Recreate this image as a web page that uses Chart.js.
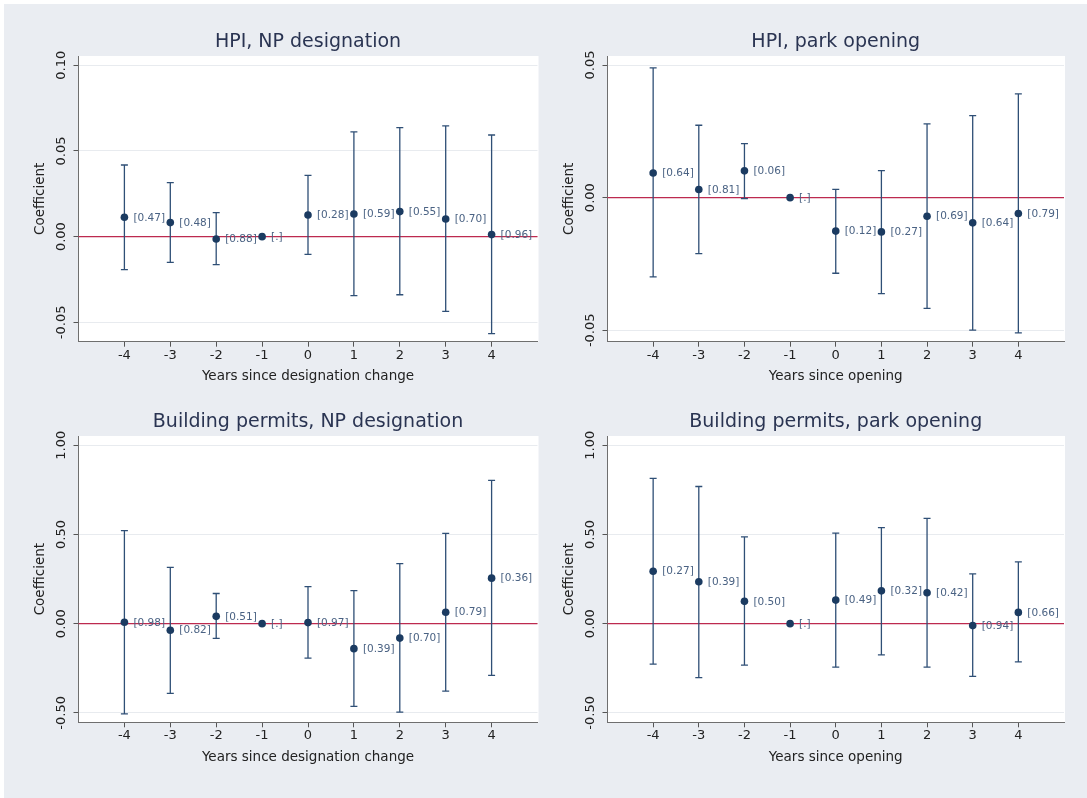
<!DOCTYPE html>
<html lang="en">
<head>
    <meta charset="UTF-8">
    <title>Event study coefficients</title>
    <script src="https://cdn.jsdelivr.net/npm/chart.js@4.4.1/dist/chart.umd.min.js"></script>
    <style>
        html, body { margin: 0; padding: 0; background: #ffffff; }
        body { width: 1087px; height: 798px; position: relative; overflow: hidden; }
        .bg { position: absolute; left: 4px; top: 4px; right: 0; bottom: 0; background: #eaedf2; }
        canvas { position: absolute; left: 0; top: 0; }
    </style>
</head>
<body>
    <div class="bg"></div>
    <canvas id="hpiNp" width="1087" height="798"></canvas>
    <canvas id="hpiPark" width="1087" height="798"></canvas>
    <canvas id="permitsNp" width="1087" height="798"></canvas>
    <canvas id="permitsPark" width="1087" height="798"></canvas>

    <script>
        // years relative to event
        const years = [-4, -3, -2, -1, 0, 1, 2, 3, 4];

        // HPI, NP designation
        const hpiNpCoef = [0.0113, 0.0082, -0.0014, 0, 0.0126, 0.0132, 0.0146, 0.0103, 0.0012];
        const hpiNpLow  = [-0.0193, -0.0150, -0.0163, null, -0.0103, -0.0344, -0.0339, -0.0436, -0.0566];
        const hpiNpHigh = [0.0418, 0.0315, 0.0140, null, 0.0358, 0.0611, 0.0636, 0.0646, 0.0593];
        const hpiNpP = ['[0.47]', '[0.48]', '[0.88]', '[.]', '[0.28]', '[0.59]', '[0.55]', '[0.70]', '[0.96]'];

        // HPI, park opening
        const hpiParkCoef = [0.0093, 0.0031, 0.0101, 0, -0.0126, -0.0129, -0.0070, -0.0095, -0.0060];
        const hpiParkLow  = [-0.0299, -0.0211, -0.0004, null, -0.0285, -0.0362, -0.0417, -0.0499, -0.0510];
        const hpiParkHigh = [0.0489, 0.0273, 0.0204, null, 0.0031, 0.0102, 0.0278, 0.0309, 0.0391];
        const hpiParkP = ['[0.64]', '[0.81]', '[0.06]', '[.]', '[0.12]', '[0.27]', '[0.69]', '[0.64]', '[0.79]'];

        // Building permits, NP designation
        const permitsNpCoef = [0.0075, -0.037, 0.041, 0, 0.006, -0.140, -0.081, 0.064, 0.255];
        const permitsNpLow  = [-0.506, -0.391, -0.082, null, -0.193, -0.464, -0.496, -0.378, -0.290];
        const permitsNpHigh = [0.522, 0.315, 0.169, null, 0.208, 0.185, 0.337, 0.506, 0.803];
        const permitsNpP = ['[0.98]', '[0.82]', '[0.51]', '[.]', '[0.97]', '[0.39]', '[0.70]', '[0.79]', '[0.36]'];

        // Building permits, park opening
        const permitsParkCoef = [0.294, 0.235, 0.125, 0, 0.132, 0.184, 0.173, -0.011, 0.063];
        const permitsParkLow  = [-0.227, -0.302, -0.233, null, -0.244, -0.175, -0.244, -0.296, -0.214];
        const permitsParkHigh = [0.814, 0.769, 0.486, null, 0.508, 0.538, 0.590, 0.279, 0.346];
        const permitsParkP = ['[0.27]', '[0.39]', '[0.50]', '[.]', '[0.49]', '[0.32]', '[0.42]', '[0.94]', '[0.66]'];

        // axis ticks
        const xTicks = [-4, -3, -2, -1, 0, 1, 2, 3, 4];
        const hpiNpTicks = [-0.05, 0, 0.05, 0.10];
        const hpiNpTickLabels = ['-0.05', '0.00', '0.05', '0.10'];
        const hpiParkTicks = [-0.05, 0, 0.05];
        const hpiParkTickLabels = ['-0.05', '0.00', '0.05'];
        const permitsTicks = [-0.5, 0, 0.5, 1.0];
        const permitsTickLabels = ['-0.50', '0.00', '0.50', '1.00'];

        const W = 1087, H = 798;
        const NAVY = '#1b3b61';
        const BAR = '#2f4f76';
        const FONT = "'DejaVu Sans', sans-serif";
        Chart.defaults.font.family = FONT;

        const makePanel = (id, cfg) => {
            const a = cfg.area;

            const panelPlugin = {
                id: 'panel',
                beforeDraw(chart) {
                    const { ctx, chartArea: c } = chart;
                    ctx.save();
                    ctx.fillStyle = '#ffffff';
                    ctx.fillRect(c.left, c.top, c.right - c.left + 1, c.bottom - c.top);
                    ctx.restore();
                },
                beforeDatasetsDraw(chart) {
                    const { ctx, chartArea: c, scales } = chart;
                    const y0 = scales.y.getPixelForValue(0);
                    ctx.save();
                    // zero line
                    ctx.strokeStyle = '#bd2a4f';
                    ctx.lineWidth = 1.3;
                    ctx.beginPath();
                    ctx.moveTo(c.left, y0);
                    ctx.lineTo(c.right, y0);
                    ctx.stroke();
                    // confidence intervals with caps
                    ctx.strokeStyle = BAR;
                    ctx.lineWidth = 1.3;
                    years.forEach((yr, i) => {
                        if (cfg.low[i] === null) return;
                        const x = scales.x.getPixelForValue(yr);
                        const yl = scales.y.getPixelForValue(cfg.low[i]);
                        const yh = scales.y.getPixelForValue(cfg.high[i]);
                        ctx.beginPath();
                        ctx.moveTo(x, yl); ctx.lineTo(x, yh);
                        ctx.moveTo(x - 3.5, yl); ctx.lineTo(x + 3.5, yl);
                        ctx.moveTo(x - 3.5, yh); ctx.lineTo(x + 3.5, yh);
                        ctx.stroke();
                    });
                    ctx.restore();
                },
                afterDatasetsDraw(chart) {
                    const { ctx, chartArea: c, scales } = chart;
                    const meta = chart.getDatasetMeta(0);
                    ctx.save();
                    // p-value labels
                    ctx.font = '10.5px ' + FONT;
                    ctx.fillStyle = '#4a6283';
                    ctx.textAlign = 'left';
                    ctx.textBaseline = 'middle';
                    meta.data.forEach((pt, i) => {
                        ctx.fillText(cfg.pvals[i], pt.x + 9, pt.y + 0.5);
                    });
                    // rotated y tick labels
                    ctx.font = '13px ' + FONT;
                    ctx.fillStyle = '#222222';
                    ctx.textAlign = 'center';
                    cfg.yTicks.forEach((v, i) => {
                        const y = scales.y.getPixelForValue(v);
                        ctx.save();
                        ctx.translate(c.left - 16.5, y);
                        ctx.rotate(-Math.PI / 2);
                        ctx.fillText(cfg.yTickLabels[i], 0, 0);
                        ctx.restore();
                    });
                    // y axis title
                    ctx.font = '13.5px ' + FONT;
                    ctx.fillStyle = '#222222';
                    ctx.save();
                    ctx.translate(c.left - 38, (c.top + c.bottom) / 2);
                    ctx.rotate(-Math.PI / 2);
                    ctx.fillText('Coefficient', 0, 0);
                    ctx.restore();
                    // x axis title
                    ctx.fillText(cfg.xTitle, (c.left + c.right) / 2, c.bottom + 35);
                    // panel title
                    ctx.font = '19px ' + FONT;
                    ctx.fillStyle = '#2a3452';
                    ctx.fillText(cfg.title, (c.left + c.right) / 2, c.top - 14);
                    ctx.restore();
                }
            };

            const ctx = document.getElementById(id).getContext('2d');
            new Chart(ctx, {
                type: 'scatter',
                data: {
                    datasets: [{
                        data: years.map((x, i) => ({ x: x, y: cfg.coef[i] })),
                        pointRadius: 3.8,
                        pointHoverRadius: 3.8,
                        backgroundColor: NAVY,
                        borderColor: NAVY,
                        borderWidth: 0
                    }]
                },
                options: {
                    responsive: false,
                    animation: false,
                    events: [],
                    layout: { padding: { left: 0, top: a.t, right: W - a.r, bottom: 0 } },
                    plugins: {
                        legend: { display: false },
                        tooltip: { enabled: false }
                    },
                    scales: {
                        x: {
                            type: 'linear',
                            min: -5,
                            max: 5,
                            afterBuildTicks: s => { s.ticks = xTicks.map(v => ({ value: v })); },
                            afterFit: s => { s.height = H - a.b; },
                            grid: { drawOnChartArea: false, drawTicks: true, tickLength: 5, tickColor: '#555555' },
                            border: { display: true, color: '#6f6f6f', width: 1 },
                            ticks: { color: '#222222', font: { size: 13 }, padding: 1, callback: v => String(v) }
                        },
                        y: {
                            type: 'linear',
                            min: cfg.yMin,
                            max: cfg.yMax,
                            afterBuildTicks: s => { s.ticks = cfg.yTicks.map(v => ({ value: v })); },
                            afterFit: s => { s.width = a.l; },
                            grid: { color: '#e8ebef', lineWidth: 1, drawTicks: true, tickLength: 5, tickColor: '#555555' },
                            border: { display: true, color: '#6f6f6f', width: 1 },
                            ticks: { display: false }
                        }
                    }
                },
                plugins: [panelPlugin]
            });
        };

        document.addEventListener('DOMContentLoaded', () => {
            makePanel('hpiNp', {
                title: 'HPI, NP designation', xTitle: 'Years since designation change',
                coef: hpiNpCoef, low: hpiNpLow, high: hpiNpHigh, pvals: hpiNpP,
                yTicks: hpiNpTicks, yTickLabels: hpiNpTickLabels, yMin: -0.0613, yMax: 0.1054,
                area: { l: 78.5, t: 56, r: 537.5, b: 341.7 }
            });
            makePanel('hpiPark', {
                title: 'HPI, park opening', xTitle: 'Years since opening',
                coef: hpiParkCoef, low: hpiParkLow, high: hpiParkHigh, pvals: hpiParkP,
                yTicks: hpiParkTicks, yTickLabels: hpiParkTickLabels, yMin: -0.0543, yMax: 0.0534,
                area: { l: 607.5, t: 56, r: 1064, b: 341.7 }
            });
            makePanel('permitsNp', {
                title: 'Building permits, NP designation', xTitle: 'Years since designation change',
                coef: permitsNpCoef, low: permitsNpLow, high: permitsNpHigh, pvals: permitsNpP,
                yTicks: permitsTicks, yTickLabels: permitsTickLabels, yMin: -0.553, yMax: 1.052,
                area: { l: 78.5, t: 436, r: 537.5, b: 722.3 }
            });
            makePanel('permitsPark', {
                title: 'Building permits, park opening', xTitle: 'Years since opening',
                coef: permitsParkCoef, low: permitsParkLow, high: permitsParkHigh, pvals: permitsParkP,
                yTicks: permitsTicks, yTickLabels: permitsTickLabels, yMin: -0.553, yMax: 1.052,
                area: { l: 607.5, t: 436, r: 1064, b: 722.3 }
            });
        });
    </script>
</body>
</html>
